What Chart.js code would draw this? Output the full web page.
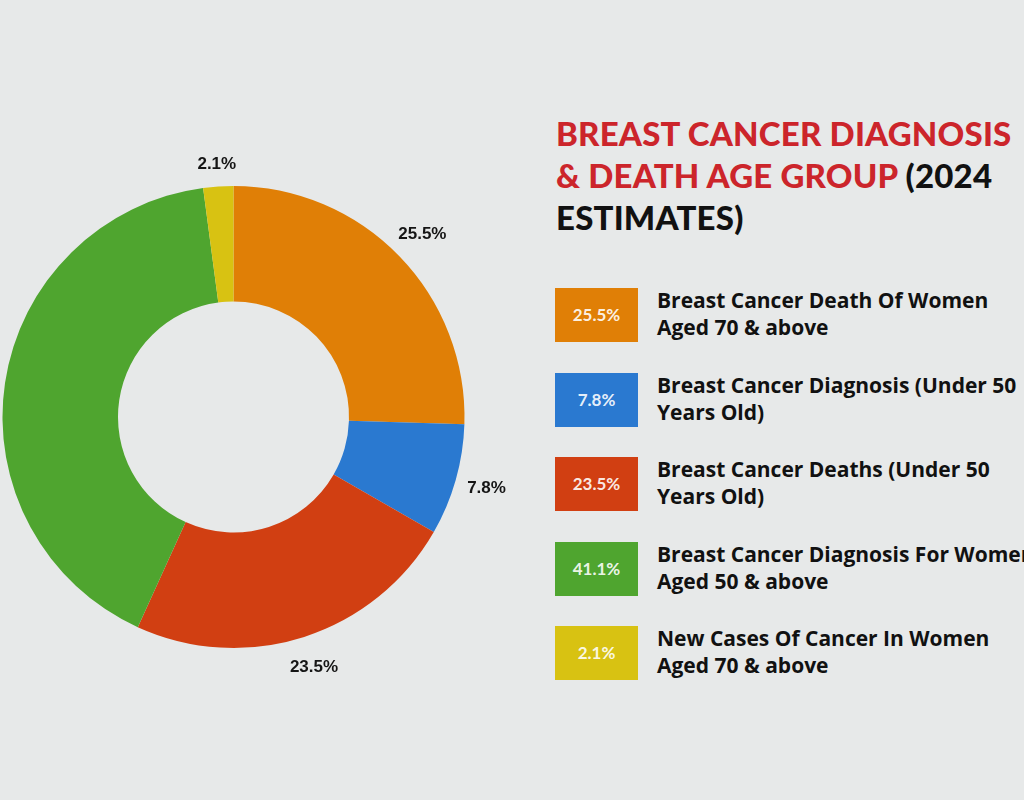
<!DOCTYPE html>
<html>
<head>
<meta charset="utf-8">
<script src="https://cdn.jsdelivr.net/npm/chart.js@4.4.1/dist/chart.umd.min.js"></script>
<style>
    html, body {
        margin: 0;
        padding: 0;
        width: 1024px;
        height: 800px;
        overflow: hidden;
        background: #e7e9e9;
        font-family: 'Lato', 'Open Sans', sans-serif;
    }
    #chartBox {
        position: absolute;
        left: 0;
        top: 136px;
        width: 520px;
        height: 562px;
    }
    #title {
        position: absolute;
        left: 556px;
        top: 112px;
        font-size: 33px;
        font-weight: 900;
        line-height: 42px;
        letter-spacing: 0.2px;
        color: #111;
        white-space: nowrap;
    }
    #title .red { color: #cc252b; }
    #legend {
        position: absolute;
        left: 555px;
        top: 288px;
        width: 470px;
    }
    .item {
        position: relative;
        height: 84.5px;
        white-space: nowrap;
    }
    .item .box {
        position: absolute;
        left: 0;
        top: 0;
        width: 83px;
        height: 54px;
        line-height: 54px;
        text-align: center;
        color: rgba(255,255,255,0.9);
        font-size: 17px;
        font-weight: 700;
    }
    .item .txt {
        position: absolute;
        left: 102px;
        top: -1px;
        font-family: 'Open Sans', sans-serif;
        font-size: 21px;
        font-weight: 700;
        line-height: 27px;
        color: #111;
    }
</style>
</head>
<body>
<div id="chartBox"><canvas id="donut"></canvas></div>
<div id="title"><span class="red">BREAST CANCER DIAGNOSIS</span><br><span class="red">&amp; DEATH AGE GROUP</span> (2024<br>ESTIMATES)</div>
<div id="legend"></div>

<script>
// Data kategori dan nilai (persen)
const categories = [
    ['Breast Cancer Death Of Women', 'Aged 70 & above'],
    ['Breast Cancer Diagnosis (Under 50', 'Years Old)'],
    ['Breast Cancer Deaths (Under 50', 'Years Old)'],
    ['Breast Cancer Diagnosis For Women', 'Aged 50 & above'],
    ['New Cases Of Cancer In Women', 'Aged 70 & above']
];
const values = [25.5, 7.8, 23.5, 41.1, 2.1];
const colors = ['#e07f06', '#2a79d0', '#d13f12', '#4fa52f', '#d8c212'];

// Label persen di luar cincin
const outsideLabels = {
    id: 'outsideLabels',
    afterDatasetsDraw: function(chart) {
        const ctx = chart.ctx;
        const meta = chart.getDatasetMeta(0);
        ctx.save();
        ctx.font = 'bold 17px "Liberation Sans", Arial, sans-serif';
        ctx.fillStyle = '#151515';
        ctx.textAlign = 'center';
        ctx.textBaseline = 'middle';
        meta.data.forEach(function(arc, i) {
            const p = arc.getProps(['x', 'y', 'startAngle', 'endAngle', 'outerRadius'], true);
            const mid = (p.startAngle + p.endAngle) / 2;
            const r = p.outerRadius + (values[i] < 5 ? 22 : 32);
            ctx.fillText(values[i] + '%', p.x + Math.cos(mid) * r, p.y + Math.sin(mid) * r);
        });
        ctx.restore();
    }
};

const chart = new Chart(document.getElementById('donut').getContext('2d'), {
    type: 'doughnut',
    data: {
        labels: categories.map(function(c) { return c.join(' '); }),
        datasets: [{
            data: values,
            backgroundColor: colors,
            borderWidth: 0
        }]
    },
    options: {
        responsive: true,
        maintainAspectRatio: false,
        animation: false,
        cutout: '50%',
        layout: {
            padding: { left: 0, right: 53, top: 50, bottom: 50 }
        },
        plugins: {
            legend: { display: false },
            tooltip: { enabled: false }
        }
    },
    plugins: [outsideLabels]
});

// Legend custom dari array
const legendEl = document.getElementById('legend');
categories.forEach(function(lines, i) {
    const item = document.createElement('div');
    item.className = 'item';
    const box = document.createElement('div');
    box.className = 'box';
    box.style.background = colors[i];
    box.textContent = values[i] + '%';
    const txt = document.createElement('div');
    txt.className = 'txt';
    txt.innerHTML = lines.map(function(l) {
        return l.replace(/&/g, '&amp;');
    }).join('<br>');
    item.appendChild(box);
    item.appendChild(txt);
    legendEl.appendChild(item);
});
</script>
</body>
</html>
